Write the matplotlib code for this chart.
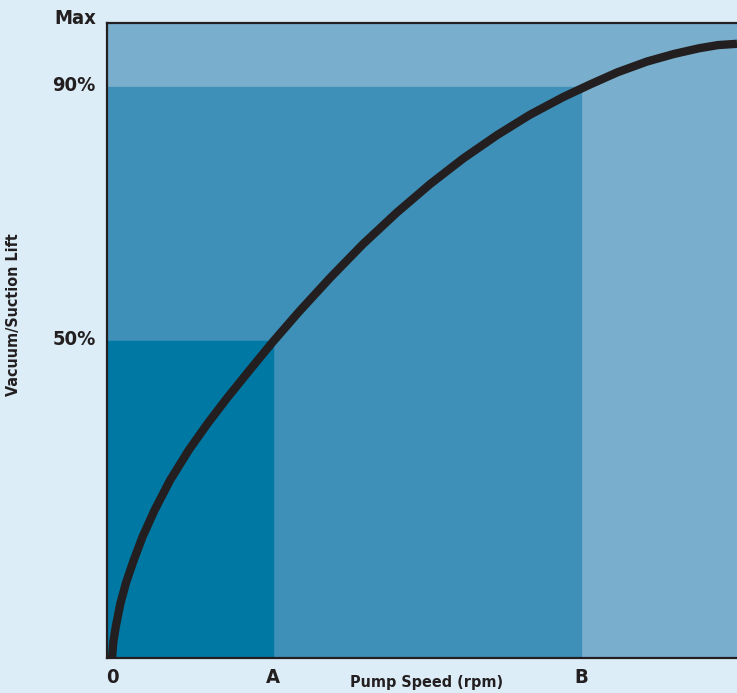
import numpy as np
import matplotlib.pyplot as plt
import matplotlib.transforms as mtransforms
from matplotlib.patches import Rectangle

# values (x = pump speed %, y = vacuum %)
speed = [0.8, 1.0, 1.4, 2.1, 3.0, 4.2, 5.6, 7.5, 10.0, 13.0, 16.0, 19.0, 22.5,
         26.3, 30.5, 35.4, 40.6, 46.0, 51.3, 56.5, 61.9, 67.1, 72.4, 76.7,
         81.0, 85.7, 90.0, 94.0, 97.0, 100.0]
lift = [0.0, 2.5, 5.0, 8.5, 11.8, 15.3, 19.0, 23.2, 28.0, 32.8, 37.0, 40.9, 45.2,
        49.8, 54.6, 59.9, 65.2, 70.2, 74.7, 78.7, 82.4, 85.6, 88.4, 90.4,
        92.3, 94.0, 95.2, 96.1, 96.6, 96.8]

point_a = 26.3   # speed at 50% lift
point_b = 75.2   # speed at 90% lift
levels = [50, 90, 100]
level_labels = ['50%', '90%', 'Max']
speed_ticks = [0, point_a, point_b]
speed_labels = ['0', 'A', 'B']

plt.rcParams['font.family'] = ['DejaVu Sans']
plt.rcParams['font.stretch'] = 'condensed'
ink = '#231f20'

fig = plt.figure(figsize=(7.37, 6.93), dpi=100, facecolor='#dcedf7')
ax = fig.add_axes([0.1452, 0.0505, 0.8548, 0.9156])

# shaded zones
ax.add_patch(Rectangle((0, 0), 100, 100, color='#79aecd', zorder=1))
ax.add_patch(Rectangle((0, 0), point_b, 90, color='#3e90b8', zorder=2))
ax.add_patch(Rectangle((0, 0), point_a, 50, color='#0078a4', zorder=3))

ax.plot(speed, lift, color=ink, lw=6, solid_capstyle='butt',
        solid_joinstyle='round', zorder=4)

ax.set_xlim(0, 100)
ax.set_ylim(0, 100)

for side in ['left', 'top', 'bottom']:
    ax.spines[side].set_color(ink)
    ax.spines[side].set_linewidth(1.6)
    ax.spines[side].set_zorder(5)
ax.spines['right'].set_visible(False)

ax.set_yticks(levels)
ax.set_yticklabels(level_labels, fontsize=14.5, fontweight='bold', color=ink,
                   fontstretch='condensed')
ax.set_xticks(speed_ticks)
ax.set_xticklabels(speed_labels, fontsize=14.5, fontweight='bold', color=ink,
                   fontstretch='condensed')
ax.tick_params(axis='both', length=0)
ax.tick_params(axis='y', pad=8)
ax.tick_params(axis='x', pad=7)

up = mtransforms.ScaledTranslation(0, 3 / 100, fig.dpi_scale_trans)
for lab in ax.get_yticklabels():
    lab.set_transform(lab.get_transform() + up)
maxlab = ax.get_yticklabels()[-1]
maxlab.set_transform(maxlab.get_transform() + mtransforms.ScaledTranslation(0, 4 / 100, fig.dpi_scale_trans))
right = mtransforms.ScaledTranslation(5 / 100, 0, fig.dpi_scale_trans)
first = ax.get_xticklabels()[0]
first.set_transform(first.get_transform() + right)

fig.text(427 / 737, 1 - 682 / 693, 'Pump Speed (rpm)', fontsize=11.5, fontweight='bold',
         fontstretch='condensed', color=ink, ha='center', va='center')
fig.text(14 / 737, 1 - 315 / 693, 'Vacuum/Suction Lift', fontsize=11.5, fontweight='bold',
         fontstretch='condensed', color=ink, ha='center', va='center', rotation=90)

fig.savefig('out.png', dpi=100, facecolor=fig.get_facecolor())
